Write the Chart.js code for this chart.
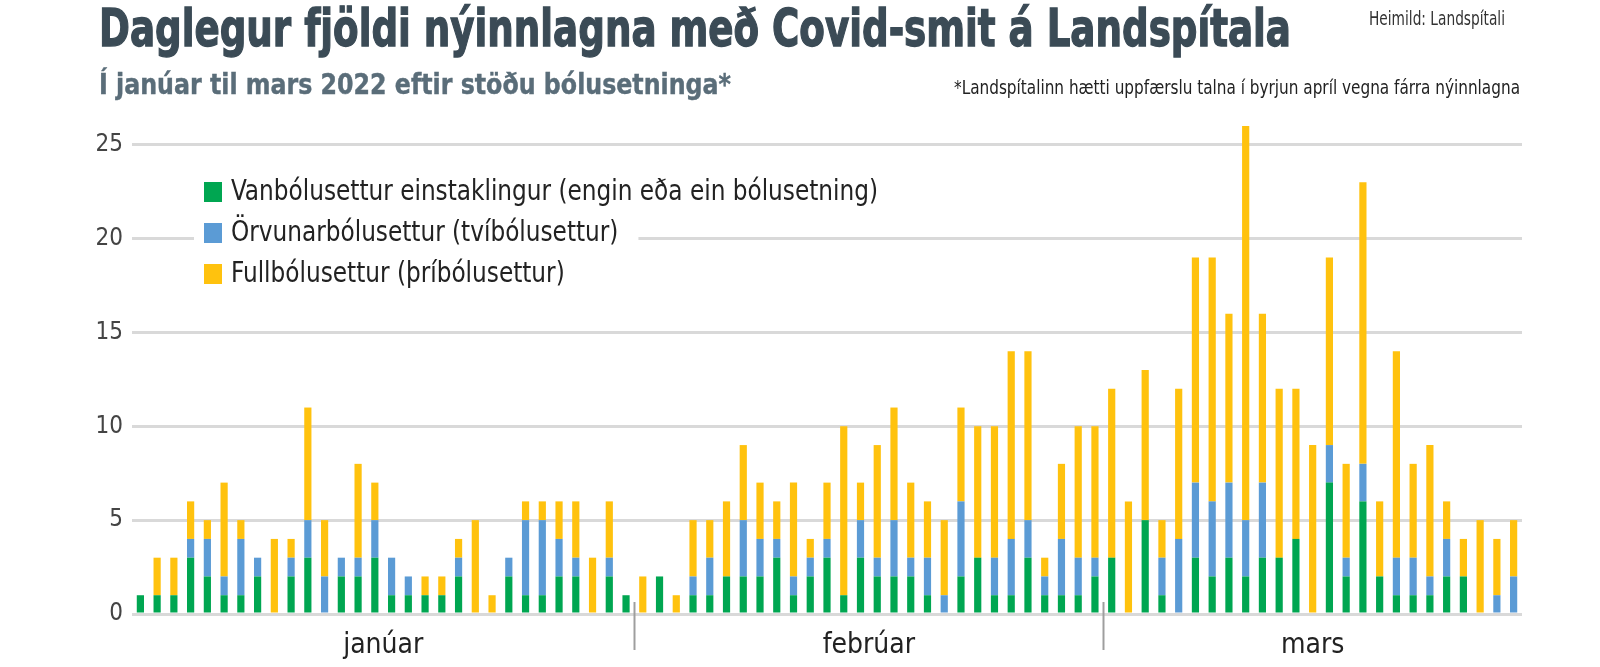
<!DOCTYPE html>
<html><head><meta charset="utf-8">
<script src="https://cdn.jsdelivr.net/npm/chart.js@4.4.1/dist/chart.umd.min.js"></script>
<style>
html,body{margin:0;padding:0;background:#fff;width:1600px;height:667px;overflow:hidden;}
.t{position:absolute;white-space:nowrap;transform-origin:0 0;line-height:1;font-family:"Liberation Sans Narrow","DejaVu Sans Condensed",sans-serif;display:inline-block;}
#title{left:99px;top:2px;font-size:52px;font-weight:bold;color:#3b4b56;-webkit-text-stroke:1.3px #3b4b56;}
#sub{left:99px;top:71px;font-size:28px;font-weight:bold;color:#5a6d79;-webkit-text-stroke:0.4px #5a6d79;}
#src{left:1369px;top:8px;font-size:20px;color:#333;}
#note{left:954px;top:77px;font-size:20px;color:#222;}
#wrap{position:absolute;left:0;top:0;width:1600px;height:667px;}
</style></head>
<body>
<div id="wrap"><canvas id="c" width="1600" height="667"></canvas></div>
<div class="t" id="title" data-w="1192">Daglegur fjöldi nýinnlagna með Covid-smit á Landspítala</div>
<div class="t" id="sub" data-w="632">Í janúar til mars 2022 eftir stöðu bólusetninga*</div>
<div class="t" id="src" data-w="136">Heimild: Landspítali</div>
<div class="t" id="note" data-w="566">*Landspítalinn hætti uppfærslu talna í byrjun apríl vegna fárra nýinnlagna</div>
<script>
// ---- data ----
const months = ['janúar', 'febrúar', 'mars'];
const daysInData = [30, 28, 25];
const seriesNames = [
  'Vanbólusettur einstaklingur (engin eða ein bólusetning)',
  'Örvunarbólusettur (tvíbólusettur)',
  'Fullbólusettur (þríbólusettur)'
];
const yTicks = [0, 5, 10, 15, 20, 25];
const green = [
  1,1,1,3,2,1,1,2,0,2, 3,0,2,2,3,1,1,1,1,2, 0,0,2,1,1,2,2,0,2,1,
  0,2,0,1,1,2,2,2,3,1, 2,3,1,3,2,2,2,1,0,2, 3,1,1,3,1,1,1,2,
  3,0,5,1,0,3,2,3,2,3, 3,4,0,7,2,6,2,1,1,1, 2,2,0,0,0
];
const blue = [
  0,0,0,1,2,1,3,1,0,1, 2,2,1,1,2,2,1,0,0,1, 0,0,1,4,4,2,1,0,1,0,
  0,0,0,1,2,0,3,2,1,1, 1,1,0,2,1,3,1,2,1,4, 0,2,3,2,1,3,2,1,
  0,0,0,2,4,4,4,4,3,4, 0,0,0,2,1,2,0,2,2,1, 2,0,0,1,2
];
const yellow = [
  0,2,2,2,1,5,1,0,4,1, 6,3,0,5,2,0,0,1,1,1, 5,1,0,1,1,2,3,3,3,0,
  2,0,1,3,2,4,4,3,2,5, 1,3,9,2,6,6,4,3,4,5, 7,7,10,9,1,4,7,7,
  9,6,8,2,8,12,13,9,21,9, 9,8,9,10,5,15,4,11,5,7, 2,2,5,3,3
];
const colors = ['#00a651', '#5b9bd5', '#ffc20e'];

const categories = [];
months.forEach((m, i) => { for (let d = 1; d <= daysInData[i]; d++) categories.push(m + ' ' + d); });

// fit header texts
document.querySelectorAll('.t').forEach(el => {
  const w = +el.dataset.w; const m = el.getBoundingClientRect().width;
  el.style.transform = 'scaleX(' + (w / m) + ')';
});

const FONT = '"Liberation Sans Narrow","DejaVu Sans Condensed",sans-serif';

const decor = {
  id: 'decor',
  afterDraw(chart) {
    const ctx = chart.ctx, x = chart.scales.x;
    ctx.save();
    // month dividers and labels
    let start = 0;
    months.forEach((m, i) => {
      const end = start + daysInData[i] - 1;
      const cx = (x.getPixelForValue(start) + x.getPixelForValue(end)) / 2;
      ctx.font = '28px ' + FONT; ctx.fillStyle = '#222';
      ctx.textAlign = 'center'; ctx.textBaseline = 'middle';
      ctx.fillText(m, cx, 646);
      if (i > 0) {
        const dx = Math.round((x.getPixelForValue(start - 1) + x.getPixelForValue(start)) / 2) + 0.5;
        ctx.strokeStyle = '#9e9e9e'; ctx.lineWidth = 2;
        ctx.beginPath(); ctx.moveTo(dx, 602); ctx.lineTo(dx, 650); ctx.stroke();
      }
      start = end + 1;
    });
    // legend
    ctx.font = '28px ' + FONT;
    const sx = 647 / ctx.measureText(seriesNames[0]).width;
    const rows = [192, 233, 274];
    seriesNames.forEach((n, i) => {
      const tw = ctx.measureText(n).width * sx;
      ctx.fillStyle = '#fff';
      ctx.fillRect(194, rows[i] - 20, 231 - 194 + tw + 20, 40);
    });
    seriesNames.forEach((n, i) => {
      ctx.fillStyle = colors[i];
      ctx.fillRect(204, rows[i] - 10, 18, 20);
      ctx.save();
      ctx.translate(231, rows[i] + 1);
      ctx.scale(sx, 1);
      ctx.fillStyle = '#222'; ctx.textAlign = 'left'; ctx.textBaseline = 'middle';
      ctx.fillText(n, 0, 0);
      ctx.restore();
    });
    ctx.restore();
  }
};

new Chart(document.getElementById('c'), {
  type: 'bar',
  data: {
    labels: categories,
    datasets: [green, blue, yellow].map((d, i) => ({
      label: seriesNames[i], data: d, backgroundColor: colors[i],
      borderWidth: 0, barPercentage: 1, categoryPercentage: 0.43
    }))
  },
  options: {
    responsive: false, animation: false, devicePixelRatio: 1,
    layout: { padding: { left: 0, right: 78, top: 126, bottom: 0 } },
    plugins: { legend: { display: false }, tooltip: { enabled: false } },
    scales: {
      x: {
        stacked: true,
        grid: { display: false }, border: { display: false },
        ticks: { display: false },
        afterFit: s => { s.height = 53; }
      },
      y: {
        stacked: true, min: 0, max: 26,
        afterBuildTicks: s => { s.ticks = yTicks.map(v => ({ value: v })); },
        grid: { color: '#d9d9d9', lineWidth: 3, drawTicks: false },
        border: { display: false },
        ticks: { font: { family: FONT, size: 24 }, color: '#444', padding: 9 },
        afterFit: s => { s.width = 132; }
      }
    }
  },
  plugins: [decor]
});
</script>
</body></html>
